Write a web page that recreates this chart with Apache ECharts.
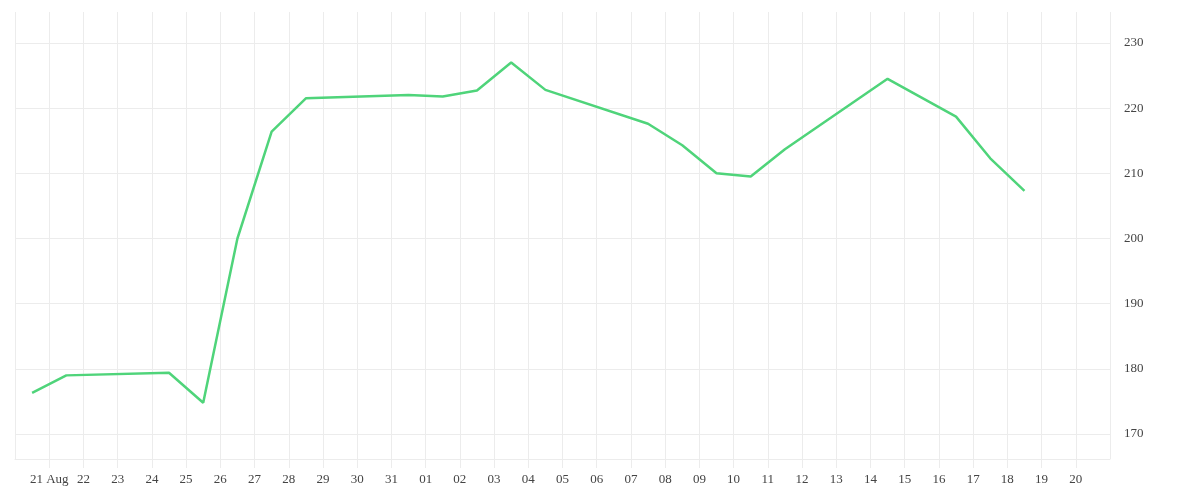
<!DOCTYPE html><html><head><meta charset="utf-8">
<script src="https://cdn.jsdelivr.net/npm/echarts@6/dist/echarts.min.js"></script>
<style>html,body{margin:0;padding:0;background:#fff}#c{width:1200px;height:500px}</style></head><body><div id="c"></div>
<script>
// x tick labels: day offsets 0..32 from 20 Aug
const tickLabels = ['', '21 Aug','22','23','24','25','26','27','28','29','30','31','01','02','03','04','05','06','07','08','09','10','11','12','13','14','15','16','17','18','19','20',''];
// point times (day offset from 20 Aug, at noon)
const pointDays = [0.5,1.5,4.5,5.5,6.5,7.5,8.5,11.5,12.5,13.5,14.5,15.5,18.5,19.5,20.5,21.5,22.5,25.5,27.5,28.5,29.5];
const prices = [176.3,179.0,179.4,174.8,200.0,216.4,221.5,222.0,221.8,222.7,227.0,222.8,217.6,214.3,210.0,209.5,213.7,224.5,218.7,212.3,207.3];
const yTicks = [170,180,190,200,210,220,230];
const data = pointDays.map((d,i)=>[d,prices[i]]);
const grey = '#ececec';
const font = 'Liberation Serif';
const chart = echarts.init(document.getElementById('c'));
chart.setOption({
  animation:false,
  grid:{left:15,right:90,top:12,bottom:41},
  xAxis:{type:'value',min:0,max:32,interval:1,
    axisLine:{show:true,lineStyle:{color:grey}},
    axisTick:{show:true,length:9,lineStyle:{color:grey}},
    splitLine:{show:true,lineStyle:{color:grey}},
    axisLabel:{fontFamily:font,fontSize:13,color:'#444',margin:14,showMinLabel:false,showMaxLabel:false,
      formatter:v=>tickLabels[Math.round(v)]||''}},
  yAxis:{type:'value',position:'right',min:166.17,max:234.75,
    axisLine:{show:false},axisTick:{show:false},splitLine:{show:false},
    axisLabel:{show:false}},
  series:[
    {type:'line',data:[],z:1,silent:true,
      markLine:{silent:true,symbol:'none',animation:false,z:1,
      lineStyle:{color:grey,type:'solid',width:1},
      label:{show:true,position:'end',distance:14,fontFamily:font,fontSize:13,color:'#444',formatter:p=>String(p.value)},
      data:yTicks.map(v=>({yAxis:v}))}},
    {type:'line',data:data,z:5,showSymbol:false,lineStyle:{color:'#4fd47a',width:2.5},itemStyle:{color:'#4fd47a'}}
  ]
});
</script></body></html>
